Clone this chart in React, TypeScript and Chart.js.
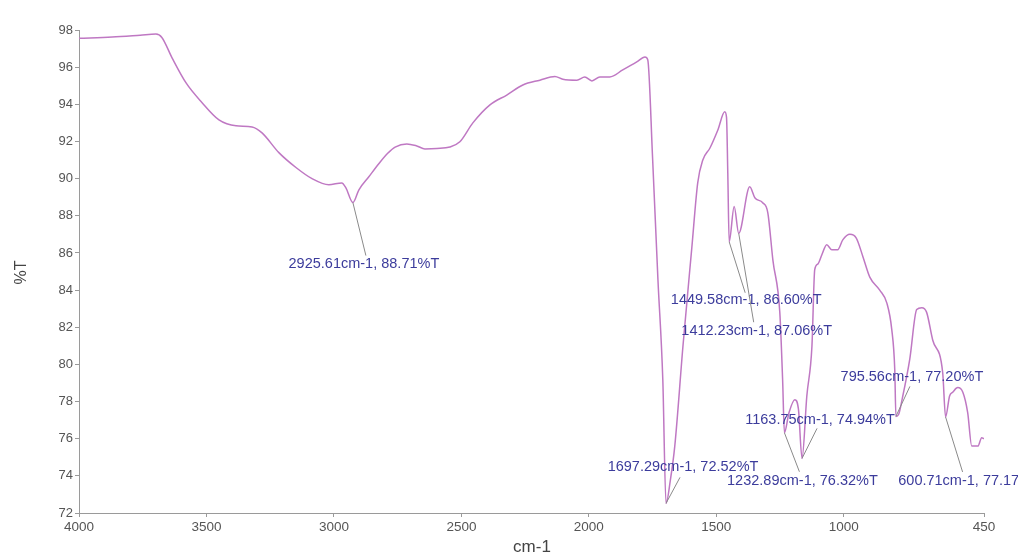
import { useEffect, useRef } from "react";
import { Chart, registerables } from "chart.js";

Chart.register(...registerables);

// FTIR spectrum: wavenumber (cm-1) and transmittance (%T)
const wavenumbers = [
  4000, 3870, 3760, 3698, 3675, 3635, 3580, 3518, 3451, 3384,
  3321, 3282, 3216, 3149, 3086, 3020, 2969, 2953, 2925.61, 2902,
  2863, 2824, 2790, 2760, 2714, 2675, 2643, 2596, 2545, 2506,
  2455, 2388, 2322, 2259, 2192, 2133, 2102, 2047, 2016, 1988,
  1957, 1918, 1867, 1812, 1780, 1769, 1750, 1729, 1710, 1697.29,
  1680, 1663, 1631, 1596, 1573, 1553, 1525, 1494, 1467, 1460,
  1455, 1449.58, 1430, 1412.23, 1369, 1349, 1318, 1298, 1278, 1251,
  1240, 1232.89, 1215, 1192, 1178, 1163.75, 1145, 1125, 1114, 1102,
  1086, 1067, 1047, 1024, 1004, 976, 951, 925, 898, 859,
  831, 812, 800, 795.56, 785, 770, 741, 714, 694, 675,
  651, 612, 600.71, 585, 573, 553, 533, 514, 498, 474,
  459, 450,
];

const transmittance = [
  97.55, 97.62, 97.72, 97.78, 97.6, 96.5, 95.15, 94.1, 93.16, 92.84,
  92.78, 92.46, 91.4, 90.6, 90.0, 89.67, 89.77, 89.5, 88.71, 89.4,
  90.1, 90.8, 91.35, 91.7, 91.87, 91.76, 91.6, 91.62, 91.7, 91.98,
  93.0, 93.97, 94.5, 95.04, 95.3, 95.5, 95.35, 95.3, 95.47, 95.26,
  95.47, 95.47, 95.85, 96.28, 96.55, 96.4, 91.1, 84.56, 79.2, 72.52,
  73.8, 75.6, 80.96, 86.3, 89.77, 91.0, 91.65, 92.62, 93.6, 93.3,
  90.3, 86.6, 88.5, 87.06, 89.56, 88.97, 88.7, 88.16, 85.6, 82.8,
  79.2, 76.32, 77.4, 78.1, 77.6, 74.94, 78.3, 80.96, 85.1, 85.4,
  85.9, 86.44, 86.17, 86.17, 86.7, 87.0, 86.8, 85.8, 84.7, 84.0,
  83.3, 81.9, 79.7, 77.2, 77.3, 78.2, 80.3, 82.95, 83.05, 82.8,
  81.3, 79.55, 77.17, 78.3, 78.5, 78.75, 78.5, 77.4, 75.6, 75.6,
  76.05, 76.0,
];

// Picked peaks
const peakWavenumbers = [2925.61, 1449.58, 1412.23, 1697.29, 1232.89, 1163.75, 795.56, 600.71];
const peakTransmittance = [88.71, 86.6, 87.06, 72.52, 76.32, 74.94, 77.2, 77.17];

const xTicks = [4000, 3500, 3000, 2500, 2000, 1500, 1000, 450];

// Leader end and label centre, in px relative to each peak
const peakLabelLayout = [
  { lx: 13, ly: 53, tx: 11, ty: 61 },
  { lx: 16, ly: 51, tx: 17, ty: 58 },
  { lx: 15, ly: 89, tx: 18, ty: 98 },
  { lx: 14, ly: -26, tx: 17, ty: -36 },
  { lx: 15, ly: 39, tx: 18, ty: 48 },
  { lx: 15, ly: -30, tx: 18, ty: -38 },
  { lx: 14, ly: -30, tx: 16, ty: -39 },
  { lx: 17, ly: 55, tx: 24, ty: 64 },
];

const LINE_COLOR = "#bf78c3";
const AXIS_COLOR = "#9a9a9a";
const TICK_COLOR = "#555555";
const LABEL_COLOR = "#3c3c9c";
const LEADER_COLOR = "#8a8a8a";
const FONT = "'Liberation Sans', Arial, sans-serif";

const peakLabelPlugin = {
  id: "peakLabels",
  afterDatasetsDraw(chart: any) {
    const { ctx, scales } = chart;
    const xs = scales.x;
    const ys = scales.y;
    ctx.save();
    ctx.font = `14.5px ${FONT}`;
    ctx.textAlign = "center";
    ctx.textBaseline = "middle";
    peakWavenumbers.forEach((wn, i) => {
      const t = peakTransmittance[i];
      const lay = peakLabelLayout[i];
      const px = xs.getPixelForValue(wn);
      const py = ys.getPixelForValue(t);
      ctx.strokeStyle = LEADER_COLOR;
      ctx.lineWidth = 1;
      ctx.beginPath();
      ctx.moveTo(px, py);
      ctx.lineTo(px + lay.lx, py + lay.ly);
      ctx.stroke();
      ctx.fillStyle = LABEL_COLOR;
      ctx.fillText(`${wn.toFixed(2)}cm-1, ${t.toFixed(2)}%T`, px + lay.tx, py + lay.ty);
    });
    ctx.restore();
  },
  afterDraw(chart: any) {
    const { ctx, chartArea } = chart;
    ctx.save();
    ctx.fillStyle = "#444444";
    ctx.textAlign = "center";
    ctx.textBaseline = "middle";
    ctx.font = `17px ${FONT}`;
    ctx.fillText("cm-1", 532, 547);
    ctx.translate(22, (chartArea.top + chartArea.bottom) / 2 + 1);
    ctx.rotate(-Math.PI / 2);
    ctx.font = `16px ${FONT}`;
    ctx.fillText("%T", 0, 0);
    ctx.restore();
  },
};

export default function App() {
  const canvasRef = useRef<HTMLCanvasElement>(null);

  useEffect(() => {
    const canvas = canvasRef.current;
    if (!canvas) return;
    const chart = new Chart(canvas, {
      type: "line",
      data: {
        datasets: [
          {
            data: wavenumbers.map((x, i) => ({ x, y: transmittance[i] })),
            borderColor: LINE_COLOR,
            borderWidth: 1.5,
            pointRadius: 0,
            cubicInterpolationMode: "monotone",
            fill: false,
          },
        ],
      },
      options: {
        animation: false,
        responsive: false,
        maintainAspectRatio: false,
        layout: { padding: { top: 30, right: 34, left: 0, bottom: 0 } },
        plugins: {
          legend: { display: false },
          tooltip: { enabled: false },
        },
        scales: {
          x: {
            type: "linear",
            reverse: true,
            min: 450,
            max: 4000,
            afterBuildTicks: (scale: any) => {
              scale.ticks = xTicks.map((v) => ({ value: v }));
            },
            afterFit: (scale: any) => {
              scale.height = 45;
            },
            grid: { drawOnChartArea: false, drawTicks: true, tickLength: 4, color: AXIS_COLOR },
            border: { color: AXIS_COLOR },
            ticks: {
              color: TICK_COLOR,
              font: { family: FONT, size: 13.5 },
              padding: 2,
              maxRotation: 0,
              autoSkip: false,
              callback: (v: any) => String(v),
            },
          },
          y: {
            min: 72,
            max: 98,
            afterFit: (scale: any) => {
              scale.width = 79;
            },
            grid: { drawOnChartArea: false, drawTicks: true, tickLength: 4, color: AXIS_COLOR },
            border: { color: AXIS_COLOR },
            ticks: {
              stepSize: 2,
              color: TICK_COLOR,
              font: { family: FONT, size: 13 },
              padding: 2,
              callback: (v: any) => String(v),
            },
          },
        },
      },
      plugins: [peakLabelPlugin],
    });
    return () => chart.destroy();
  }, []);

  return (
    <div style={{ position: "absolute", left: 0, top: 0, width: 1018, height: 558, overflow: "hidden", background: "#fff" }}>
      <canvas ref={canvasRef} width={1018} height={558} style={{ display: "block" }} />
    </div>
  );
}
